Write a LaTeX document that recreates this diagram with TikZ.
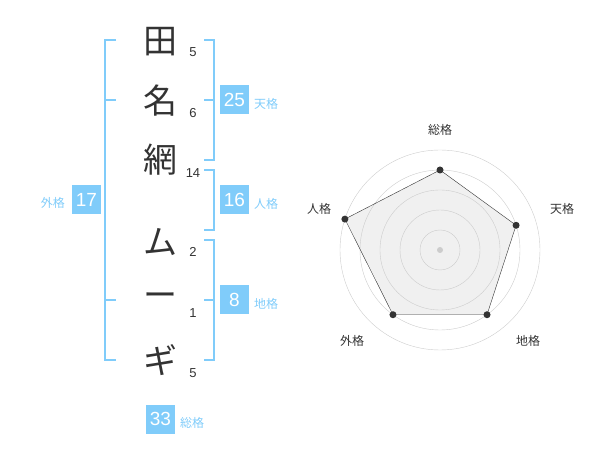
\documentclass[tikz,border=0pt]{standalone}
\usepackage{fontspec}
\setmainfont{Liberation Sans}
\newfontfamily\cjk{Noto Sans CJK JP}
\usepackage{xcolor}
\usepackage{tikz}
\usetikzlibrary{math}
\definecolor{sky}{HTML}{80CCFA}
\definecolor{ink}{HTML}{333333}
\definecolor{ring}{HTML}{CCCCCC}
\definecolor{area}{HTML}{F0F0F0}
\begin{document}
\begin{tikzpicture}[x=1pt,y=-1pt,
	kanji/.style={font=\cjk\fontsize{34}{34}\selectfont,text=ink,inner sep=0},
	strk/.style={font=\fontsize{13}{13}\selectfont,text=ink,inner sep=0},
	score/.style={fill=sky,text=white,minimum width=29pt,minimum height=29pt,inner sep=0,font=\fontsize{19}{19}\selectfont},
	kaku/.style={font=\cjk\fontsize{12}{12}\selectfont,text=sky,inner sep=0},
	brk/.style={draw=sky,line width=2pt},
	axl/.style={font=\cjk\fontsize{12}{12}\selectfont,text=ink,inner sep=0},
	dot/.style={circle,fill=ink,inner sep=0,minimum size=7pt}]
\useasboundingbox (0,0) rectangle (600,470);
\tikzmath{
	\kx = 160;\sx = 193;\bl = 105;\br = 214;
	{\node[kanji] (k1) at (\kx,42) {田};};
	{\node[kanji] (k2) at (\kx,101) {名};};
	{\node[kanji] (k3) at (\kx,160) {網};};
	{\node[kanji] (k4) at (\kx,242) {ム};};
	{\node[kanji] (k5) at (\kx,300) {ー};};
	{\node[kanji] (k6) at (\kx,360) {ギ};};
	{\node[strk] (s1) at (\sx,52) {5};};
	{\node[strk] (s2) at (\sx,113) {6};};
	{\node[strk] (s3) at (\sx,173) {14};};
	{\node[strk] (s4) at (\sx,252) {2};};
	{\node[strk] (s5) at (\sx,313) {1};};
	{\node[strk] (s6) at (\sx,373) {5};};
	%
	{\draw[brk] (\bl+11,40) -| (\bl,360) -- (\bl+11,360);};
	{\draw[brk] (\bl,100) -- (\bl+11,100);};
	{\draw[brk] (\bl,300) -- (\bl+11,300);};
	{\draw[brk] (\br-10,40) -| (\br,160) -- (\br-10,160);};
	{\draw[brk] (\br-10,100) -- (\br,100);};
	{\draw[brk] (\br-10,170) -| (\br,230) -- (\br-10,230);};
	{\draw[brk] (\br-10,240) -| (\br,360) -- (\br-10,360);};
	{\draw[brk] (\br-10,300) -- (\br,300);};
	%
	{\node[score] (gai) at (86.5,200) {17};};
	{\node[score] (ten) at (234.5,100) {25};};
	{\node[score] (jin) at (234.5,200) {16};};
	{\node[score] (chi) at (234.5,300) {8};};
	{\node[score] (sou) at (160.5,419) {33};};
	{\node[kaku,anchor=east] (gail) at (65,203) {外格};};
	{\node[kaku,anchor=west] (tenl) at (254,104) {天格};};
	{\node[kaku,anchor=west] (jinl) at (254,204) {人格};};
	{\node[kaku,anchor=west] (chil) at (254,304) {地格};};
	{\node[kaku,anchor=west] (soul) at (180,423) {総格};};
	%
	\cx = 440;\cy = 250;
	{\coordinate (o) at (\cx,\cy);};
	{\coordinate (v1) at ({\cx+80*cos(90)},{\cy-80*sin(90)});};
	{\coordinate (v2) at ({\cx+80*cos(18)},{\cy-80*sin(18)});};
	{\coordinate (v3) at ({\cx+80*cos(-54)},{\cy-80*sin(-54)});};
	{\coordinate (v4) at ({\cx+80*cos(-126)},{\cy-80*sin(-126)});};
	{\coordinate (v5) at ({\cx+100*cos(162)},{\cy-100*sin(162)});};
	{\fill[area] (v1) -- (v2) -- (v3) -- (v4) -- (v5) -- cycle;};
	{\foreach \r in {20,40,...,100} \draw[ring] (o) circle[radius=\r];};
	{\draw[ink] (v1) -- (v2) -- (v3) -- (v4) -- (v5) -- cycle;};
	{\foreach \v in {v1,v2,v3,v4,v5} \node[dot] at (\v) {};};
	{\node[circle,fill=ring,inner sep=0,minimum size=6pt] (c) at (o) {};};
	%
	{\node[axl] (a1) at (440,130) {総格};};
	{\node[axl] (a2) at (562,209) {天格};};
	{\node[axl] (a3) at (528,341) {地格};};
	{\node[axl] (a4) at (352,341) {外格};};
	{\node[axl] (a5) at (319,209) {人格};};
};
\end{tikzpicture}
\end{document}
